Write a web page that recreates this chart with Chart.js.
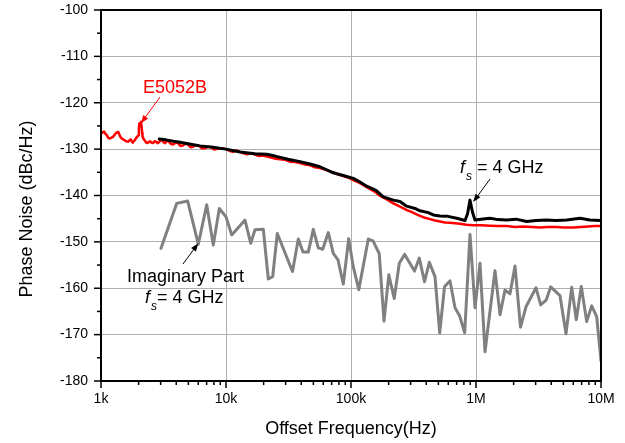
<!DOCTYPE html>
<html>
<head>
<meta charset="utf-8">
<script src="https://cdn.jsdelivr.net/npm/chart.js@4.4.1/dist/chart.umd.min.js"></script>
<style>
  html, body { margin: 0; padding: 0; background: #fff; }
  #wrap { width: 625px; height: 443px; }
</style>
</head>
<body>
<div id="wrap"><canvas id="phaseChart" width="625" height="443"></canvas></div>
<script>
// ------------------------------------------------------- //
// Data (offset frequency in Hz, dBc/Hz)
// ------------------------------------------------------ //
var xTickValues = [1e3, 1e4, 1e5, 1e6, 1e7];
var xTickLabels = ['1k', '10k', '100k', '1M', '10M'];
var yTickValues = [-180, -170, -160, -150, -140, -130, -120, -110, -100];

// E5052B reference measurement (red)
var redFreq = [1000, 1030, 1057, 1085, 1111, 1145, 1180, 1215, 1254, 1295, 1335, 1375, 1405, 1438, 1480, 1528,
  1590, 1654, 1690, 1729, 1760, 1793, 1830, 1871, 1910, 1951, 1995, 2010, 2025, 2060, 2089, 2117, 2135, 2148,
  2200, 2249, 2300, 2347, 2400, 2466, 2530, 2606, 2680, 2754, 2830, 2911, 3000, 3076, 3160, 3251, 3370, 3499,
  3630, 3767, 3950, 4130, 4320, 4529, 4750, 4966, 5200, 5445, 5750, 6081, 6400, 6792, 7200, 7586, 8100, 8630,
  9300, 10000, 10700, 11376, 12100, 12942, 13800, 14723, 15900, 17061, 18400, 19770, 21300, 22909, 25000,
  27040, 29700, 32510, 35600, 39080, 43000, 46990, 51500, 56490, 62000, 67920, 74500, 81660, 89500, 98160,
  106000, 113760, 123000, 133530, 144000, 155600, 167000, 180300, 198000, 217960, 238000, 260600, 283000,
  307600, 331000, 356450, 390000, 428500, 470000, 515200, 565000, 619400, 680000, 744700, 840000, 946200,
  1100000, 1294000, 1500000, 1760000, 2050000, 2377000, 2800000, 3251000, 3750000, 4365000, 5100000,
  6003000, 6900000, 7870000, 8900000, 10000000];
var redPN = [-126.6, -126.4, -126.2, -126.7, -127.0, -127.6, -127.7, -127.5, -127.3, -126.8, -126.4, -126.3,
  -126.9, -127.5, -127.8, -128.0, -128.3, -128.4, -128.1, -127.9, -128.3, -128.6, -128.3, -128.0, -127.6,
  -127.3, -127.0, -125.5, -124.5, -124.8, -124.1, -125.4, -126.5, -127.3, -127.9, -128.2, -128.6, -128.7,
  -128.5, -128.3, -128.6, -128.7, -128.3, -128.4, -128.7, -128.5, -128.1, -128.0, -128.5, -128.7, -128.2,
  -128.4, -128.9, -129.0, -128.6, -128.7, -129.3, -129.2, -128.8, -129.0, -129.6, -129.5, -129.1, -129.3,
  -129.8, -129.8, -129.5, -129.6, -130.1, -129.9, -129.8, -130.0, -130.4, -130.6, -130.3, -130.6, -130.9,
  -131.1, -130.9, -131.2, -131.5, -131.4, -131.6, -131.8, -132.1, -132.2, -132.3, -132.7, -132.8, -133.0,
  -133.3, -133.5, -133.9, -134.1, -134.4, -134.8, -135.2, -135.6, -135.9, -136.3, -136.8, -137.1, -137.6,
  -138.2, -138.7, -139.2, -139.9, -140.4, -141.0, -141.7, -142.2, -142.7, -143.2, -143.6, -144.0, -144.4,
  -144.8, -145.1, -145.4, -145.6, -145.8, -145.9, -146.0, -146.1, -146.3, -146.4, -146.4, -146.5, -146.6,
  -146.6, -146.8, -146.7, -146.8, -146.9, -146.8, -146.8, -146.9, -146.9, -146.8, -146.7, -146.6, -146.6];

// measured phase noise, fs = 4 GHz (black)
var blackFreq = [2927, 3311, 3800, 4285, 5100, 6194, 7870, 10000, 12942, 17061, 21160, 24660, 31330, 39080,
  47000, 56490, 72180, 89540, 104330, 118000, 133530, 158490, 181300, 217960, 246600, 279000, 325100,
  356450, 415300, 455400, 515200, 597000, 700800, 816600, 855000, 895400, 937600, 981800, 1096500, 1294000,
  1500000, 1760000, 2089000, 2545000, 3020000, 3678000, 4365000, 5317000, 6792000, 8166000, 10000000];
var blackPN = [-127.8, -128.0, -128.3, -128.5, -128.9, -129.3, -129.6, -130.0, -130.6, -131.0, -131.1, -131.5,
  -132.2, -132.7, -133.2, -133.8, -135.1, -135.8, -136.3, -137.1, -138.0, -138.9, -140.3, -141.0, -141.3,
  -142.3, -142.8, -143.3, -143.7, -144.2, -144.4, -144.5, -144.9, -145.4, -144.0, -141.0, -143.6, -145.3,
  -145.1, -144.9, -145.2, -145.3, -145.1, -145.6, -145.4, -145.3, -145.4, -145.3, -144.9, -145.3, -145.4];

// imaginary part, fs = 4 GHz (gray)
var grayFreq = [3020, 4033, 4938, 6003, 7008, 7913, 8841, 10000, 11108, 14191, 15760, 17061, 19884, 21800,
  23640, 25728, 34041, 37878, 41305, 45540, 49930, 54737, 59370, 65826, 72178, 78705, 86780, 95850, 104330,
  115460, 137530, 149970, 168110, 183650, 200660, 221620, 243450, 268900, 322100, 351900, 387300, 423100,
  469900, 512500, 559800, 619400, 679200, 740500, 812000, 895400, 981800, 1076500, 1180300, 1419100,
  1555900, 1706000, 1870700, 2051200, 2269900, 2511900, 3019950, 3293500, 3650800, 3958300, 4698900,
  5248100, 5830000, 6344000, 6957000, 7683000, 8424000, 9239000, 10000000];
var grayPN = [-151.4, -141.7, -141.2, -150.5, -142.0, -150.7, -142.8, -144.6, -148.5, -145.3, -150.3, -147.4,
  -147.3, -158.0, -157.5, -148.2, -156.4, -149.4, -152.2, -152.2, -147.3, -151.3, -151.6, -148.0, -152.5,
  -153.9, -159.1, -149.3, -155.4, -160.3, -149.4, -149.8, -152.5, -167.1, -157.1, -162.2, -154.6, -152.7,
  -156.3, -153.5, -158.6, -154.4, -157.5, -169.6, -159.7, -158.4, -164.2, -166.0, -169.6, -148.4, -164.2,
  -154.6, -173.7, -156.2, -165.7, -160.4, -161.2, -155.2, -168.4, -164.0, -159.9, -163.6, -162.5, -159.7,
  -161.6, -169.8, -159.8, -166.8, -159.6, -167.2, -163.8, -166.1, -175.7];

function pairs(xs, ys) {
    return xs.map(function (x, i) { return { x: x, y: ys[i] }; });
}

var FONT = "'Liberation Sans', Arial, sans-serif";

// ------------------------------------------------------- //
// Frame, minor ticks, axis titles and annotations
// ------------------------------------------------------ //
function arrow(ctx, x1, y1, x2, y2, color) {
    var ang = Math.atan2(y2 - y1, x2 - x1), hl = 8, hw = 3;
    ctx.strokeStyle = color;
    ctx.fillStyle = color;
    ctx.lineWidth = 1;
    ctx.beginPath();
    ctx.moveTo(x1, y1);
    ctx.lineTo(x2 - Math.cos(ang) * hl * 0.8, y2 - Math.sin(ang) * hl * 0.8);
    ctx.stroke();
    ctx.beginPath();
    ctx.moveTo(x2, y2);
    ctx.lineTo(x2 - Math.cos(ang) * hl - Math.sin(ang) * hw, y2 - Math.sin(ang) * hl + Math.cos(ang) * hw);
    ctx.lineTo(x2 - Math.cos(ang) * hl + Math.sin(ang) * hw, y2 - Math.sin(ang) * hl - Math.cos(ang) * hw);
    ctx.closePath();
    ctx.fill();
}

function fsLabel(ctx, x, y, eqX) {
    ctx.font = 'italic 18px ' + FONT;
    ctx.fillText('f', x, y);
    ctx.font = 'italic 12px ' + FONT;
    ctx.fillText('s', x + 6, y + 7);
    ctx.font = '18px ' + FONT;
    ctx.fillText('= 4 GHz', eqX, y);
}

var decorations = {
    id: 'decorations',
    afterDraw: function (chart) {
        var ctx = chart.ctx, a = chart.chartArea;
        var xs = chart.scales.x, ys = chart.scales.y;
        ctx.save();

        // box
        ctx.strokeStyle = '#000';
        ctx.lineWidth = 2;
        ctx.beginPath();
        ctx.moveTo(a.left, a.top);
        ctx.lineTo(a.right, a.top);
        ctx.lineTo(a.right, a.bottom);
        ctx.lineTo(a.left, a.bottom);
        ctx.closePath();
        ctx.stroke();

        // y ticks (major every 10, minor every 5)
        ctx.lineWidth = 1.5;
        for (var v = -180; v <= -100; v += 5) {
            var py = ys.getPixelForValue(v);
            var len = (v % 10 === 0) ? 7 : 4;
            ctx.beginPath();
            ctx.moveTo(a.left - len, py);
            ctx.lineTo(a.left, py);
            ctx.stroke();
        }
        // x ticks (log decades + minors)
        for (var d = 1e3; d < 1e7; d *= 10) {
            for (var m = 1; m <= 9; m++) {
                var px = xs.getPixelForValue(m * d);
                var l = (m === 1) ? 7 : 4;
                ctx.beginPath();
                ctx.moveTo(px, a.bottom);
                ctx.lineTo(px, a.bottom + l);
                ctx.stroke();
            }
        }
        ctx.beginPath();
        ctx.moveTo(a.right, a.bottom);
        ctx.lineTo(a.right, a.bottom + 7);
        ctx.stroke();

        // axis titles
        ctx.fillStyle = '#000';
        ctx.font = '18px ' + FONT;
        ctx.textAlign = 'center';
        ctx.textBaseline = 'alphabetic';
        ctx.fillText('Offset Frequency(Hz)', (a.left + a.right) / 2, 434);
        ctx.save();
        ctx.translate(32, 209);
        ctx.rotate(-Math.PI / 2);
        ctx.fillText('Phase Noise (dBc/Hz)', 0, 0);
        ctx.restore();

        // annotations
        ctx.textAlign = 'left';
        ctx.fillStyle = '#ff0000';
        ctx.font = '18px ' + FONT;
        ctx.fillText('E5052B', 143, 93);
        arrow(ctx, 160, 97, xs.getPixelForValue(2089), ys.getPixelForValue(-124.4), '#ff0000');

        ctx.fillStyle = '#000';
        fsLabel(ctx, 460, 173, 477);
        arrow(ctx, 490, 179, xs.getPixelForValue(950000), ys.getPixelForValue(-141.4), '#000');

        ctx.fillStyle = '#000';
        ctx.font = '18px ' + FONT;
        ctx.fillText('Imaginary Part', 127, 282);
        fsLabel(ctx, 145, 303, 157);
        arrow(ctx, 183, 264, xs.getPixelForValue(6003), ys.getPixelForValue(-150.3), '#000');

        ctx.restore();
    }
};

// ------------------------------------------------------- //
// Chart
// ------------------------------------------------------ //
var ctxP = document.getElementById('phaseChart').getContext('2d');
var phaseChart = new Chart(ctxP, {
    type: 'line',
    data: {
        datasets: [{
            label: 'fs = 4 GHz',
            data: pairs(blackFreq, blackPN),
            borderColor: '#000000',
            borderWidth: 3
        }, {
            label: 'E5052B',
            data: pairs(redFreq, redPN),
            borderColor: '#ff0000',
            borderWidth: 2.5
        }, {
            label: 'Imaginary Part',
            data: pairs(grayFreq, grayPN),
            borderColor: '#808080',
            borderWidth: 3
        }]
    },
    options: {
        responsive: false,
        animation: false,
        devicePixelRatio: 1,
        layout: { padding: { top: 10, right: 24, left: 0, bottom: 0 } },
        plugins: {
            legend: { display: false },
            tooltip: { enabled: false }
        },
        elements: {
            point: { radius: 0 },
            line: { tension: 0, borderJoinStyle: 'round', borderCapStyle: 'round' }
        },
        scales: {
            x: {
                type: 'logarithmic',
                min: 1e3,
                max: 1e7,
                afterBuildTicks: function (scale) {
                    scale.ticks = xTickValues.map(function (v) { return { value: v }; });
                },
                afterFit: function (scale) {
                    scale.height = 62;
                    scale.paddingLeft = 0;
                    scale.paddingRight = 0;
                },
                ticks: {
                    autoSkip: false,
                    maxRotation: 0,
                    padding: 10,
                    color: '#000',
                    font: { family: FONT, size: 14 },
                    callback: function (value) {
                        var i = xTickValues.indexOf(value);
                        return i >= 0 ? xTickLabels[i] : '';
                    }
                },
                grid: { color: '#b0b0b0', lineWidth: 1, drawTicks: false },
                border: { display: false }
            },
            y: {
                type: 'linear',
                min: -180,
                max: -100,
                afterBuildTicks: function (scale) {
                    scale.ticks = yTickValues.map(function (v) { return { value: v }; });
                },
                afterFit: function (scale) {
                    scale.width = 101;
                    scale.paddingTop = 0;
                    scale.paddingBottom = 0;
                },
                ticks: {
                    padding: 13,
                    color: '#000',
                    font: { family: FONT, size: 14 },
                    callback: function (value) { return String(value); }
                },
                grid: { color: '#b0b0b0', lineWidth: 1, drawTicks: false },
                border: { display: false }
            }
        }
    },
    plugins: [decorations]
});
</script>
</body>
</html>
